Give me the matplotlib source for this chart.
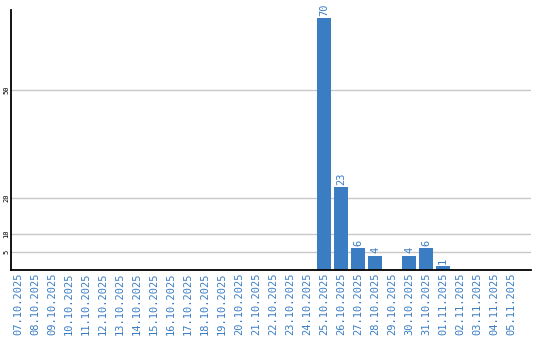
import matplotlib
matplotlib.use("Agg")
import matplotlib.pyplot as plt

dates = ["07.10.2025", "08.10.2025", "09.10.2025", "10.10.2025", "11.10.2025",
         "12.10.2025", "13.10.2025", "14.10.2025", "15.10.2025", "16.10.2025",
         "17.10.2025", "18.10.2025", "19.10.2025", "20.10.2025", "21.10.2025",
         "22.10.2025", "23.10.2025", "24.10.2025", "25.10.2025", "26.10.2025",
         "27.10.2025", "28.10.2025", "29.10.2025", "30.10.2025", "31.10.2025",
         "01.11.2025", "02.11.2025", "03.11.2025", "04.11.2025", "05.11.2025"]
values = [0, 0, 0, 0, 0, 0, 0, 0, 0, 0, 0, 0, 0, 0, 0, 0, 0, 0,
          70, 23, 6, 4, 0, 4, 6, 1, 0, 0, 0, 0]
yticks = [5, 10, 20, 50]

blue = "#3a7dc3"
fig = plt.figure(figsize=(5.4, 3.4), dpi=100)
ax = fig.add_axes([11/540, 70/340, 520/540, 260/340])
x = list(range(len(dates)))
ax.bar(x, values, width=0.82, color=blue, zorder=3)
for xi, v in zip(x, values):
    if v > 0:
        ax.text(xi, v + 0.6, str(v), rotation=90, ha="center", va="bottom",
                color=blue, fontsize=7.5, family="DejaVu Sans Mono")
ax.set_xlim(-0.41, 30.18)
ax.set_ylim(0, 72.2)
ax.set_yticks(yticks)
ax.set_yticklabels([str(t) for t in yticks], rotation=90, va="center",
                   fontsize=5, family="DejaVu Sans Mono")
ax.set_xticks(x)
ax.set_xticklabels(dates, rotation=90, color=blue, fontsize=7.5,
                   family="DejaVu Sans Mono")
ax.tick_params(axis="both", length=0, pad=2)
ax.tick_params(axis="y", pad=1)
ax.grid(axis="y", color="#c8c8c8", linewidth=1, zorder=0)
for s in ["top", "right"]:
    ax.spines[s].set_visible(False)
ax.spines["left"].set_linewidth(1.3)
ax.spines["bottom"].set_linewidth(1.3)
ax.spines["left"].set_zorder(4)
ax.spines["bottom"].set_zorder(4)
fig.savefig("out.png", dpi=100)
